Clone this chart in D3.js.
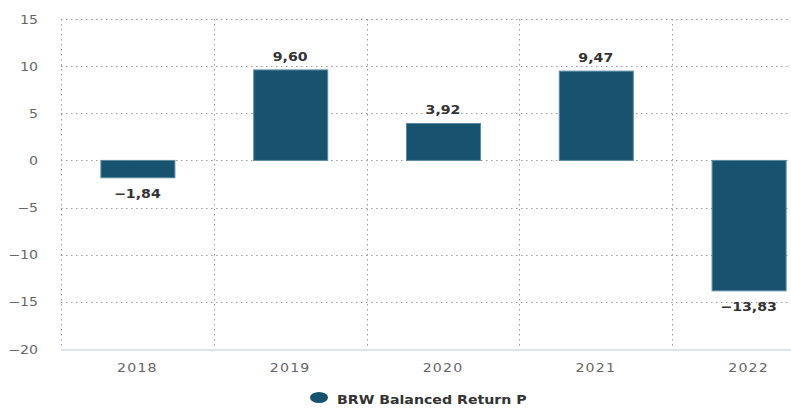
<!DOCTYPE html>
<html><head><meta charset="utf-8">
<script src="https://cdn.jsdelivr.net/npm/d3@7"></script>
<style>body{margin:0;background:#fff}svg{display:block}</style>
</head><body>
<svg id="c" width="791" height="408"></svg>
<script>
const categories = ["2018","2019","2020","2021","2022"];
const values = [-1.84, 9.60, 3.92, 9.47, -13.83];
const yTicks = [15,10,5,0,-5,-10,-15,-20];
const seriesName = "BRW Balanced Return P";

(function(){
const svg = d3.select("#c");
const pL = 61, pR = 825, pT = 19, pB = 349;
const sx = 1.18;
const x = d3.scaleBand().domain(categories).range([pL, pR]).paddingInner(0).paddingOuter(0);
const y = d3.scaleLinear().domain([-20, 15]).range([pB, pT]);
const fmt = v => (v < 0 ? "\u2212" : "") + Math.abs(v).toFixed(2).replace(".", ",");
const font = "DejaVu Sans, Verdana, sans-serif";
const tr = (px, py) => `translate(${px},${py}) scale(${sx},1)`;

// horizontal grid
svg.append("g").selectAll("line").data(yTicks.filter(t => t !== -20)).join("line")
  .attr("x1", pL).attr("x2", 791).attr("y1", d => Math.round(y(d))+0.5).attr("y2", d => Math.round(y(d))+0.5)
  .attr("stroke", "#9a9a9a").attr("stroke-dasharray", "1.5,3.5").attr("stroke-width", 1);
// vertical grid
svg.append("g").selectAll("line").data(categories).join("line")
  .attr("x1", d => Math.round(x(d))+0.5).attr("x2", d => Math.round(x(d))+0.5)
  .attr("y1", pT).attr("y2", pB)
  .attr("stroke", "#9a9a9a").attr("stroke-dasharray", "1.5,3.5").attr("stroke-width", 1);

// y tick labels
svg.append("g").selectAll("text").data(yTicks).join("text")
  .attr("transform", d => tr(38, y(d) + 4.5)).attr("text-anchor", "end")
  .attr("font-family", font).attr("font-size", 12)
  .attr("fill", "#666").text(d => (d < 0 ? "\u2212" : "") + Math.abs(d));

// x axis line
svg.append("line").attr("x1", pL).attr("x2", 791).attr("y1", pB+1).attr("y2", pB+1)
  .attr("stroke", "#dde3ee").attr("stroke-width", 2);

// x labels
svg.append("g").selectAll("text").data(categories).join("text")
  .attr("transform", d => tr(x(d) + x.bandwidth()/2, 372)).attr("text-anchor", "middle")
  .attr("font-family", font).attr("font-size", 12).attr("letter-spacing", 1)
  .attr("fill", "#666").text(d => d);

// bars
const bw = 74;
svg.append("g").selectAll("rect").data(values).join("rect")
  .attr("x", (d,i) => x(categories[i]) + x.bandwidth()/2 - bw/2 + 0.5)
  .attr("y", d => y(Math.max(0, d)))
  .attr("width", bw)
  .attr("height", d => Math.abs(y(d) - y(0)))
  .attr("fill", "#17536f").attr("stroke", "#5a8aa2").attr("stroke-width", 1);

// data labels
svg.append("g").selectAll("text").data(values).join("text")
  .attr("transform", (d,i) => tr(x(categories[i]) + x.bandwidth()/2, d >= 0 ? y(d) - 9 : y(d) + 20))
  .attr("text-anchor", "middle")
  .attr("font-family", font).attr("font-size", 12).attr("font-weight", "bold")
  .attr("fill", "#333").text(d => fmt(d));

// legend
svg.append("ellipse").attr("cx", 319).attr("cy", 397.5).attr("rx", 9).attr("ry", 5.5).attr("fill", "#17536f");
svg.append("text").attr("transform", tr(337, 404))
  .attr("font-family", font).attr("font-size", 12).attr("font-weight", "bold")
  .attr("fill", "#333").text(seriesName);
})();
</script>
</body></html>
